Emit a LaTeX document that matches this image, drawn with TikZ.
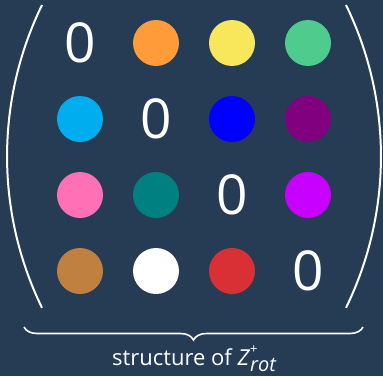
\documentclass[tikz,border=0pt]{standalone}
\usepackage{fontspec}
\setmainfont{Open Sans}
\usetikzlibrary{positioning, calc, decorations.pathreplacing}

\definecolor{bgnavy}{HTML}{263C55}
\definecolor{dotorange}{HTML}{FF9B38}
\definecolor{dotyellow}{HTML}{F8E75A}
\definecolor{dotgreen}{HTML}{4ECB8D}
\definecolor{dotcyan}{HTML}{00AEEF}
\definecolor{dotblue}{HTML}{0000FF}
\definecolor{dotpurple}{HTML}{800080}
\definecolor{dotpink}{HTML}{FF70B4}
\definecolor{dotteal}{HTML}{008080}
\definecolor{dotviolet}{HTML}{C800FF}
\definecolor{dotbrown}{HTML}{BF8040}
\definecolor{dotred}{HTML}{D93035}

\tikzset{
  dot/.style={circle, inner sep=0pt, minimum size=46pt},
  zero/.style={text=white, inner sep=0pt, font=\fontsize{55}{55}\selectfont},
  paren/.style={white, line width=2pt},
}

\begin{document}
\begin{tikzpicture}[x=1pt, y=1pt]
  % Background
  \fill[bgnavy] (0,0) rectangle (383,376);
  \useasboundingbox (0,0) rectangle (383,376);

  % Diagonal zeros
  \foreach \i/\x/\y in {1/80/333, 2/156/257, 3/232/181, 4/308/105} {
    \node[zero] (z\i) at (\x,\y) {0};
  }

  % Coloured entries
  \foreach \r/\c/\x/\y/\col in {1/2/156/333/dotorange, 1/3/232/333/dotyellow, 1/4/308/333/dotgreen,
                                2/1/80/257/dotcyan, 2/3/232/257/dotblue, 2/4/308/257/dotpurple,
                                3/1/80/181/dotpink, 3/2/156/181/dotteal, 3/4/308/181/dotviolet,
                                4/1/80/105/dotbrown, 4/2/156/105/white, 4/3/232/105/dotred} {
    \node[dot, fill=\col] (d\r\c) at (\x,\y) {};
  }

  % Parentheses
  \draw[paren] (42,371) arc[start angle=154, end angle=206, radius=345.4];
  \draw[paren] (346,371) arc[start angle=26, end angle=-26, radius=345.4];

  % Brace and caption
  \coordinate (bl) at (24,49);
  \coordinate (br) at (363,49);
  \draw[white, line width=1.6pt, decorate, decoration={brace, amplitude=13pt}] (br) -- (bl);
  \node[anchor=base, text=white, font=\fontsize{22}{22}\selectfont] (cap) at (194,11)
    {structure of \textit{Z}\rlap{\raisebox{12pt}{\fontsize{13}{13}\selectfont +}}\raisebox{-6pt}{\fontsize{20}{20}\selectfont\itshape rot}};
\end{tikzpicture}
\end{document}
